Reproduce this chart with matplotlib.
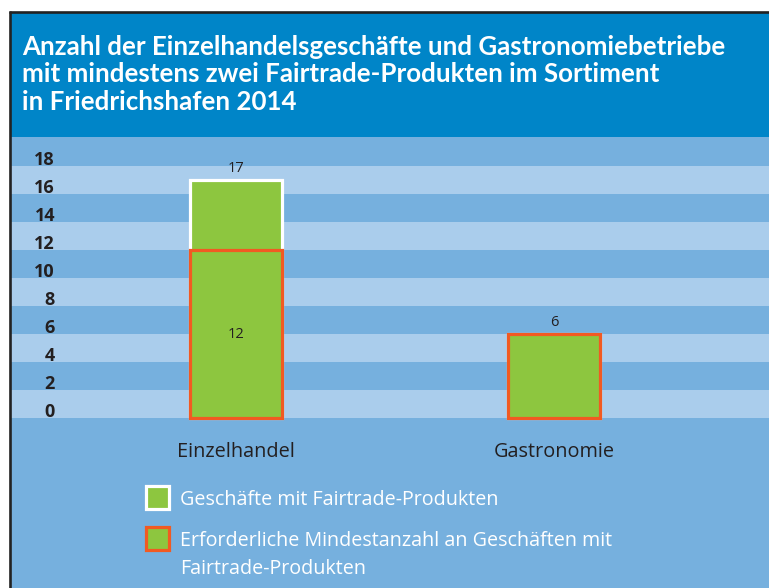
import matplotlib
matplotlib.use("Agg")
import matplotlib.pyplot as plt
from matplotlib.patches import Rectangle
from matplotlib.lines import Line2D
import matplotlib.transforms as mtransforms

# ---------------- data ----------------
categories = ["Einzelhandel", "Gastronomie"]
geschaefte = [17, 6]          # Geschäfte mit Fairtrade-Produkten
mindestanzahl = [12, 6]       # Erforderliche Mindestanzahl
yticks = [0, 2, 4, 6, 8, 10, 12, 14, 16, 18]
title_lines = [
    "Anzahl der Einzelhandelsgeschäfte und Gastronomiebetriebe",
    "mit mindestens zwei Fairtrade-Produkten im Sortiment",
    "in Friedrichshafen 2014",
]
legend_labels = [
    "Geschäfte mit Fairtrade-Produkten",
    "Erforderliche Mindestanzahl an Geschäften mit\nFairtrade-Produkten",
]

# ---------------- style ----------------
W, H = 769, 588
BAND = "#0085c8"
DARK = "#76b0de"
LIGHT = "#aacdec"
GREEN = "#8dc63f"
ORANGE = "#f15a22"
TXT = "#231f20"
FONT = "Open Sans"
plt.rcParams["font.family"] = [FONT, "DejaVu Sans"]

fig = plt.figure(figsize=(W / 100, H / 100), dpi=100)
fig.patch.set_facecolor("white")


def fx(x):
    return x / W


def fy(y):
    return 1 - y / H


# title band
fig.add_artist(Rectangle((fx(10), fy(137)), (W - 10) / W, (137 - 12) / H,
                         transform=fig.transFigure, facecolor=BAND,
                         edgecolor="none", zorder=0))

# plot axes (full width, below band)
ax = fig.add_axes([fx(10), 0, (W - 10) / W, (588 - 137) / H])
y0_px, unit_px = 418, 14.0
ax.set_ylim((y0_px - 588) / unit_px, (y0_px - 137) / unit_px)
c0, c1 = 236, 554
ux = c1 - c0
ax.set_xlim((10 - c0) / ux, (W - c0) / ux)
ax.set_facecolor(DARK)
for s in ax.spines.values():
    s.set_visible(False)

for v in range(0, 18, 4):
    ax.axhspan(v, v + 2, color=LIGHT, lw=0, zorder=0)

x = list(range(len(categories)))
bw = 92 / ux
ax.bar(x, geschaefte, width=bw, color=GREEN, edgecolor="white",
       linewidth=2.3, zorder=2)
ax.bar(x, mindestanzahl, width=bw, color=GREEN, edgecolor=ORANGE,
       linewidth=2.3, zorder=3)

# value labels
for xi, v in zip(x, geschaefte):
    ax.text(xi, v + 0.85, str(v), ha="center", va="center",
            fontsize=10.5, color=TXT, zorder=4)
ax.text(x[0], mindestanzahl[0] / 2, str(mindestanzahl[0]), ha="center",
        va="center", fontsize=10.5, color=TXT, zorder=4)

# y ticks
ax.set_yticks(yticks)
ax.set_yticklabels([str(t) for t in yticks])
ax.tick_params(axis="y", length=0, pad=-(55 - 10) * 0.72, labelsize=13,
               labelcolor=TXT)
for lab in ax.get_yticklabels():
    lab.set_fontweight("bold")
    lab.set_transform(lab.get_transform() +
                      mtransforms.ScaledTranslation(0, 8 / 100, fig.dpi_scale_trans))
ax.set_xticks([])

# category labels
cat_texts = []
for xi, c in zip(x, categories):
    cat_texts.append(ax.text(xi, (y0_px - 452) / unit_px, c, ha="center",
                             va="center", fontsize=12, color=TXT))

# title
title_texts = []
for i, (line, base) in enumerate(zip(title_lines, [55, 82.5, 110])):
    title_texts.append(fig.text(fx(22.5), fy(base), line, ha="left",
                                va="baseline", fontsize=16,
                                family=["Lato", "DejaVu Sans"],
                                fontweight="bold", color="white"))

# legend
for i, (ytop, ec) in enumerate([(486, "white"), (527, ORANGE)]):
    fig.add_artist(Rectangle((fx(146), fy(ytop + 23)), 23 / W, 23 / H,
                             transform=fig.transFigure, facecolor=GREEN,
                             edgecolor=ec, linewidth=2.3, zorder=5))
leg_texts = []
leg_texts.append(fig.text(fx(180), fy(500), legend_labels[0], ha="left",
                          va="center", fontsize=12, color="white"))
l1, l2 = legend_labels[1].split("\n")
leg_texts.append(fig.text(fx(180), fy(541), l1, ha="left", va="center",
                          fontsize=12, color="white"))
leg_texts.append(fig.text(fx(180), fy(569), l2, ha="left", va="center",
                          fontsize=12, color="white"))

# black frame lines (top & left)
fig.add_artist(Line2D([fx(9.5), fx(9.5)], [fy(11), 0], transform=fig.transFigure,
                      color="#222222", lw=1.9, zorder=10,
                      solid_capstyle="butt"))
fig.add_artist(Line2D([fx(8.5), 1], [fy(11.8), fy(11.8)], transform=fig.transFigure,
                      color="#222222", lw=1.9, zorder=10,
                      solid_capstyle="butt"))

# fit text widths to reference
fig.canvas.draw()
r = fig.canvas.get_renderer()


def fit(t, target):
    w = t.get_window_extent(r).width
    return t.get_fontsize() * target / w


s = fit(title_texts[0], 703)
for t in title_texts:
    t.set_fontsize(s)
s = fit(leg_texts[0], 318)
for t in leg_texts:
    t.set_fontsize(s)
s = fit(cat_texts[0], 117)
for t in cat_texts:
    t.set_fontsize(s)

fig.savefig("out.png", dpi=100, facecolor=fig.get_facecolor())
